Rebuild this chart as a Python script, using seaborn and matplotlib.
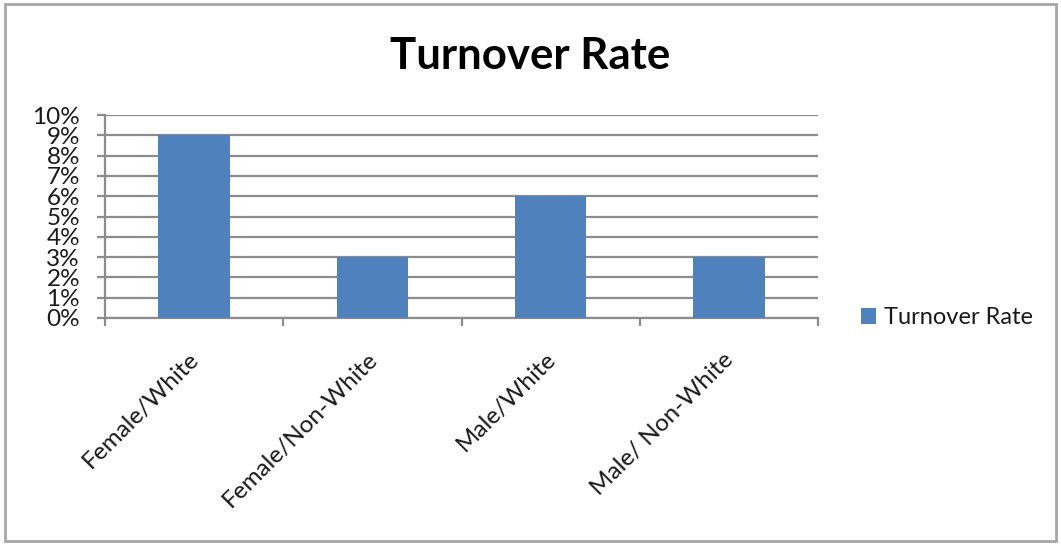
import matplotlib
matplotlib.use("Agg")
import matplotlib.pyplot as plt
import matplotlib.transforms as mtransforms
from matplotlib.patches import Rectangle
from matplotlib.ticker import FuncFormatter, MultipleLocator, FixedLocator
import seaborn as sns
import pandas as pd

categories = ["Female/White", "Female/Non-White", "Male/White", "Male/ Non-White"]
turnover_rate = [0.09, 0.03, 0.06, 0.03]
series_name = "Turnover Rate"
chart_title = "Turnover Rate"

sns.set_theme(style="white")
plt.rcParams["font.family"] = ["Lato", "DejaVu Sans"]

df = pd.DataFrame({"group": categories, "rate": turnover_rate})

fig = plt.figure(figsize=(10.61, 5.45), dpi=100)
ax = fig.add_axes([105 / 1061, 1 - 318 / 545, (818 - 105) / 1061, (318 - 115) / 545])

sns.barplot(data=df, x="group", y="rate", color="#4F81BD", saturation=1,
            width=0.4, label=series_name, ax=ax, zorder=3, linewidth=0)

grid_c = "#8c8c8c"
ax.set_ylim(0, 0.10)
ax.set_xlim(-0.5, len(categories) - 0.5)
ax.yaxis.set_major_locator(MultipleLocator(0.01))
ax.yaxis.set_major_formatter(FuncFormatter(lambda v, _: f"{round(v * 100)}%"))
ax.yaxis.grid(True, color=grid_c, linewidth=1.6, zorder=0)
ax.set_axisbelow(True)

for s in ["top", "right"]:
    ax.spines[s].set_visible(False)
for s in ["left", "bottom"]:
    ax.spines[s].set_color(grid_c)
    ax.spines[s].set_linewidth(1.6)

ax.tick_params(axis="y", which="major", length=6, width=1.6, color=grid_c,
               labelsize=17.5, pad=12, left=True)
ax.xaxis.set_minor_locator(FixedLocator([i - 0.5 for i in range(len(categories) + 1)]))
ax.tick_params(axis="x", which="minor", length=6, width=1.6, color=grid_c, bottom=True)
ax.tick_params(axis="x", which="major", length=0, labelsize=17.5, pad=22)
shift = mtransforms.ScaledTranslation(-6 / 100, 0, fig.dpi_scale_trans)
for lbl in ax.get_xticklabels():
    lbl.set_rotation(45)
    lbl.set_ha("right")
    lbl.set_va("top")
    lbl.set_rotation_mode("anchor")
    lbl.set_transform(lbl.get_transform() + shift)
for lbl in ax.get_yticklabels() + ax.get_xticklabels():
    lbl.set_color("#1a1a1a")

ax.set_xlabel("")
ax.set_ylabel("")

fig.suptitle(chart_title, x=530 / 1061, y=1 - 36 / 545, fontsize=31.5,
             fontweight="bold", va="top", color="black")

leg = ax.legend(loc="center left", bbox_to_anchor=(1.03, 0.0), frameon=False,
                fontsize=17, handlelength=0.65, handleheight=0.65, handletextpad=0.35)
for t in leg.get_texts():
    t.set_color("#1a1a1a")

fig.patches.append(Rectangle((5 / 1061, 4 / 545), 1051 / 1061, 537 / 545,
                             transform=fig.transFigure, fill=False,
                             edgecolor="#a6a6a6", linewidth=2))

fig.savefig("out.png", dpi=100)
